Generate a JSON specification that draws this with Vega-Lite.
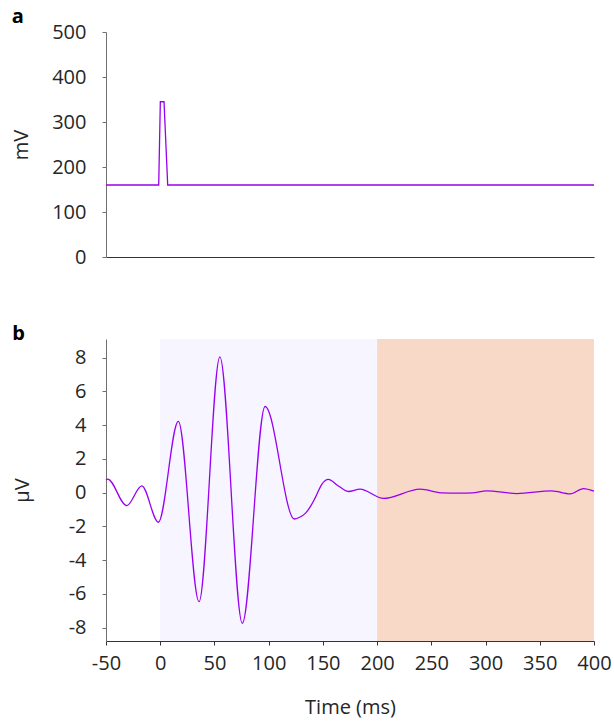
{
  "$schema": "https://vega.github.io/schema/vega-lite/v6.json",
  "background": "white",
  "padding": {"left": 11, "top": 7, "right": 5, "bottom": 6},
  "spacing": 57,
  "config": {
    "font": "Open Sans",
    "view": {"stroke": null},
    "axis": {
      "labelFont": "Open Sans", "labelFontSize": 20, "labelColor": "#262626",
      "titleFont": "Open Sans", "titleFontSize": 20, "titleFontWeight": "normal", "titleColor": "#262626",
      "domainColor": "#707070", "tickColor": "#707070", "grid": false, "tickSize": 4
    },
    "title": {"fontSize": 20, "fontWeight": "bold", "anchor": "start", "frame": "bounds", "color": "#000000", "font": "Open Sans", "offset": -5}
  },
  "datasets": {
    "pulse": [
      {"t": -50, "mv": 160}, {"t": -1.4, "mv": 160}, {"t": 0.1, "mv": 345}, {"t": 3.5, "mv": 345},
      {"t": 6.9, "mv": 160}, {"t": 400, "mv": 160}
    ],
    "phases": [
      {"phase": "response", "start": 0, "end": 200},
      {"phase": "post", "start": 200, "end": 400}
    ],
    "erp": [
      {"t": -50, "uv": 0.75}, {"t": -48.5, "uv": 0.8}, {"t": -30.9, "uv": -0.78}, {"t": -17, "uv": 0.39},
      {"t": -1.7, "uv": -1.76}, {"t": 16.7, "uv": 4.22}, {"t": 35.8, "uv": -6.47}, {"t": 55, "uv": 8.04},
      {"t": 75.7, "uv": -7.75}, {"t": 96.7, "uv": 5.1}, {"t": 123.7, "uv": -1.57}, {"t": 129, "uv": -1.45},
      {"t": 134, "uv": -1.22}, {"t": 139, "uv": -0.78}, {"t": 143, "uv": -0.3}, {"t": 149, "uv": 0.49},
      {"t": 155, "uv": 0.78}, {"t": 164.3, "uv": 0.39}, {"t": 173.5, "uv": 0.06}, {"t": 184.3, "uv": 0.2},
      {"t": 205.8, "uv": -0.35}, {"t": 239.7, "uv": 0.2}, {"t": 260, "uv": -0.02}, {"t": 275, "uv": -0.04},
      {"t": 288, "uv": -0.02}, {"t": 301, "uv": 0.1}, {"t": 329, "uv": -0.06}, {"t": 361, "uv": 0.1},
      {"t": 378, "uv": -0.08}, {"t": 390.3, "uv": 0.23}, {"t": 400, "uv": 0.08}
    ]
  },
  "vconcat": [
    {
      "title": {"text": "a"},
      "width": 488,
      "height": 225,
      "data": {"name": "pulse"},
      "mark": {"type": "line", "color": "#9900ee", "strokeWidth": 1.3},
      "encoding": {
        "x": {"field": "t", "type": "quantitative", "scale": {"domain": [-50, 400], "nice": false},
              "axis": {"labels": false, "ticks": false, "title": null, "domainColor": "#333333"}},
        "y": {"field": "mv", "type": "quantitative", "scale": {"domain": [0, 500], "nice": false},
              "axis": {"values": [0, 100, 200, 300, 400, 500], "title": "mV", "labelPadding": 16, "titlePadding": 20}}
      }
    },
    {
      "title": {"text": "b"},
      "width": 488,
      "height": 302,
      "layer": [
        {
          "data": {"name": "phases"},
          "mark": {"type": "rect"},
          "encoding": {
            "x": {"field": "start", "type": "quantitative", "scale": {"domain": [-50, 400], "nice": false}},
            "x2": {"field": "end"},
            "color": {"field": "phase", "type": "nominal", "scale": {"domain": ["response", "post"], "range": ["#f7f5ff", "#f8d9c8"]}, "legend": null}
          }
        },
        {
          "data": {"name": "erp"},
          "mark": {"type": "line", "color": "#9900ee", "strokeWidth": 1.3, "interpolate": "monotone"},
          "encoding": {
            "x": {"field": "t", "type": "quantitative", "scale": {"domain": [-50, 400], "nice": false},
                  "axis": {"values": [-50, 0, 50, 100, 150, 200, 250, 300, 350, 400], "title": "Time (ms)", "labelFlush": false, "labelPadding": 8, "titlePadding": 24, "domainColor": "#333333", "tickColor": "#333333",
                           "labelExpr": "datum.value < 0 ? '-' + abs(datum.value) : '' + datum.value"}},
            "y": {"field": "uv", "type": "quantitative", "scale": {"domain": [-8.8, 9.1], "nice": false},
                  "axis": {"values": [-8, -6, -4, -2, 0, 2, 4, 6, 8], "title": "μV", "labelPadding": 16, "titlePadding": 36,
                           "labelExpr": "datum.value < 0 ? '-' + abs(datum.value) : '' + datum.value"}}
          }
        }
      ]
    }
  ]
}
